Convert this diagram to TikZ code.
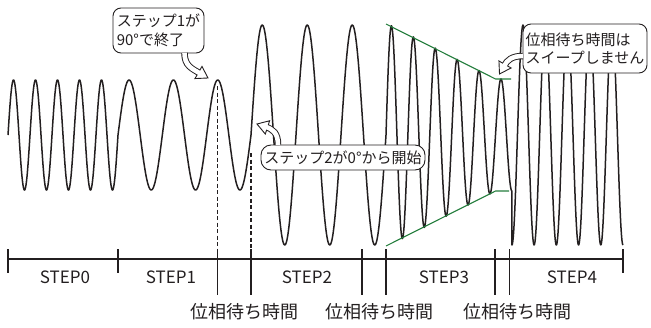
\documentclass[tikz,border=0pt]{standalone}
\usepackage{fontspec}
\setmainfont{Noto Sans CJK JP}
\usetikzlibrary{calc}
\definecolor{env}{RGB}{35,125,60}
\definecolor{ink}{RGB}{35,31,32}
\newcommand{\fatarrow}[3]{%
  \draw[line width=6.5pt, ink] #1;
  \begin{scope}[shift={#2}, rotate=#3]
    \filldraw[fill=white, draw=ink, line width=0.9pt, line join=miter] (0,0) -- (-11,7) -- (-11,-7) -- cycle;
  \end{scope}
  \draw[line width=4.6pt, white] #1;
}
\begin{document}
\begin{tikzpicture}[x=1pt,y=-1pt,
  wave/.style={line width=1.5pt, ink, line join=round},
  axis/.style={line width=1.3pt, ink},
  guide/.style={line width=1.6pt, ink, dash pattern=on 4pt off 2.5pt},
  envl/.style={line width=1.1pt, env},
  callout/.style={draw=ink, line width=0.9pt, fill=white, rounded corners=8pt, inner sep=0pt, font=\fontsize{15}{18.5}\selectfont, text=ink},
  steplbl/.style={font=\fontsize{17}{20}\selectfont, text=ink, inner sep=0pt},
  waitlbl/.style={font=\fontsize{18}{20}\selectfont, text=ink, inner sep=0pt},
]
\useasboundingbox (0,0) rectangle (651,327);

% guide (dashed) lines
\draw[guide] (217.5,86) -- (217.5,249);
\draw[guide] (251,153) -- (251,249);

% waveform
\draw[wave]
  plot[domain=8:118, samples=221] (\x,{135-55*sin((\x-8)*16.3636)})
  -- plot[domain=118:251, samples=267] (\x,{135-55*sin((\x-118)*8.1203)})
  -- plot[domain=251:386, samples=271] (\x,{135-110*sin((\x-251)*8)})
  -- plot[domain=386:495.5, samples=330] (\x,{135-(112-(\x-386)*0.51142)*sin((\x-386)*16.4384)})
  -- plot[domain=495.5:511.9, samples=50] (\x,{135-56*sin((\x-386)*16.4384)})
  -- (511.9,245)
  -- plot[domain=511.9:623, samples=334] (\x,{135-110*sin(270+(\x-511.9)*16.2016)});

% envelope
\draw[envl] (386,24) -- (495.5,79) -- (511,79);
\draw[envl] (386,246) -- (495.5,191) -- (509,191);

% axis
\draw[axis] (8,259) -- (623,259);
\foreach \t in {8,118,623} \draw[axis] (\t,249) -- (\t,273);
\foreach \t in {217.5,251,362,386,495,509.5} \draw[axis] (\t,249) -- (\t,295);

% labels
\node[steplbl] (s0) at (65,277) {STEP0};
\node[steplbl] (s1) at (171,277) {STEP1};
\node[steplbl] (s2) at (307,277) {STEP2};
\node[steplbl] (s3) at (444,277) {STEP3};
\node[steplbl] (s4) at (572,277) {STEP4};
\node[waitlbl] (w1) at (244,312) {位相待ち時間};
\node[waitlbl] (w2) at (379,312) {位相待ち時間};
\node[waitlbl] (w3) at (517,312) {位相待ち時間};

% callouts
\node[callout, minimum width=91pt, minimum height=45pt, align=left] (c1) at (158.5,30.5) {ステップ1が\\90°で終了};
\node[callout, minimum width=164pt, minimum height=25pt, rounded corners=10pt] (c2) at (343,157.5) {ステップ2が0°から開始};
\node[callout, minimum width=124pt, minimum height=49pt, align=left] (c3) at (585,48.5) {位相待ち時間は\\スイープしません};

% arrows
\coordinate (a1s) at ([xshift=26pt, yshift=0.5pt]c1.south);
\coordinate (a1e) at (200.2,73.5);
\coordinate (a1t) at (208,78);
\coordinate (a2s) at ([xshift=-65pt, yshift=-0.5pt]c2.north);
\coordinate (a2e) at (265.6,126.8);
\coordinate (a2t) at (257,124);
\coordinate (a3s) at ([xshift=0.5pt, yshift=-7.5pt]c3.west);
\coordinate (a3e) at (504,66.2);
\coordinate (a3t) at (499.5,74);

\fatarrow{(a1s) .. controls (184.5,66) and (192,68.5) .. (a1e)}{(a1t)}{-30}
\fatarrow{(a2s) .. controls (278,133) and (273,129.2) .. (a2e)}{(a2t)}{162}
\fatarrow{(a3s) .. controls (512,56) and (507,60) .. (a3e)}{(a3t)}{240}
\end{tikzpicture}
\end{document}
